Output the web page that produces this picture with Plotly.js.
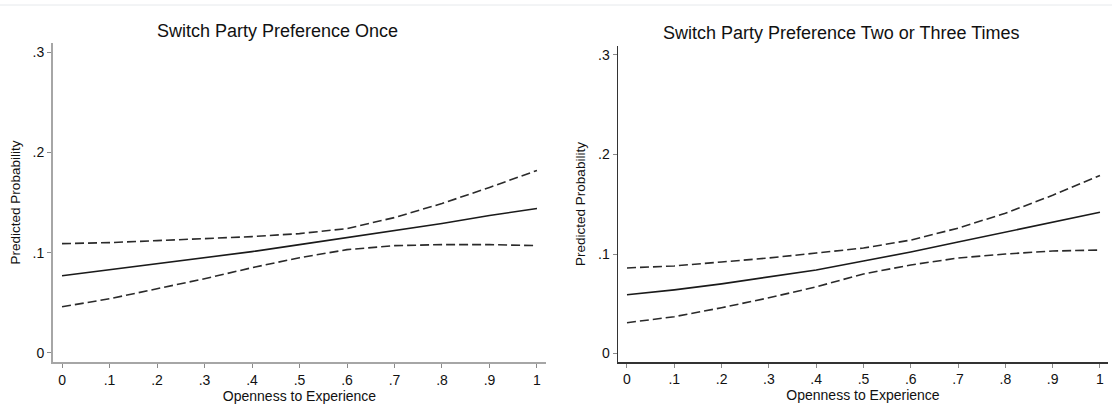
<!DOCTYPE html>
<html>
<head>
<meta charset="utf-8">
<script src="https://cdn.plot.ly/plotly-3.0.1.min.js"></script>
<style>
html,body{margin:0;padding:0;background:#fff;}
#chart{width:1112px;height:410px;}
</style>
</head>
<body>
<div id="chart"></div>
<script>
// Openness to Experience values
const openness = [0, 0.1, 0.2, 0.3, 0.4, 0.5, 0.6, 0.7, 0.8, 0.9, 1];

// Panel 1: Switch Party Preference Once
const onceEstimate = [0.077, 0.083, 0.089, 0.095, 0.101, 0.108, 0.115, 0.122, 0.129, 0.137, 0.144];
const onceUpper    = [0.109, 0.110, 0.112, 0.114, 0.116, 0.119, 0.124, 0.135, 0.149, 0.165, 0.182];
const onceLower    = [0.046, 0.054, 0.064, 0.074, 0.085, 0.095, 0.103, 0.107, 0.108, 0.108, 0.107];

// Panel 2: Switch Party Preference Two or Three Times
const twiceEstimate = [0.059, 0.064, 0.070, 0.077, 0.084, 0.093, 0.102, 0.112, 0.122, 0.132, 0.142];
const twiceUpper    = [0.086, 0.088, 0.092, 0.096, 0.101, 0.106, 0.114, 0.126, 0.141, 0.159, 0.179];
const twiceLower    = [0.031, 0.037, 0.046, 0.056, 0.067, 0.080, 0.089, 0.096, 0.100, 0.103, 0.104];

// Tick labels
const xTickVals = [0, 0.1, 0.2, 0.3, 0.4, 0.5, 0.6, 0.7, 0.8, 0.9, 1];
const xTickText = ['0', '.1', '.2', '.3', '.4', '.5', '.6', '.7', '.8', '.9', '1'];
const yTickVals = [0, 0.1, 0.2, 0.3];
const yTickText = ['0', '.1', '.2', '.3'];

const panelTitles = ['Switch Party Preference Once', 'Switch Party Preference Two or Three Times'];
const xTitle = 'Openness to Experience';
const yTitle = 'Predicted Probability';

const W = 1112, H = 410;
const FONT = 'Liberation Sans, Arial, sans-serif';
const solid = {color: '#1a1a1a', width: 1.6};
const dashed = {color: '#2a2a2a', width: 1.6, dash: '9px,4px'};

function tr(y, xa, ya, line, name) {
  return {x: openness, y: y, xaxis: xa, yaxis: ya, type: 'scatter', mode: 'lines',
          line: line, name: name, showlegend: false, hoverinfo: 'x+y'};
}

const data = [
  tr(onceUpper, 'x', 'y', dashed, 'Upper 95% CI'),
  tr(onceLower, 'x', 'y', dashed, 'Lower 95% CI'),
  tr(onceEstimate, 'x', 'y', solid, 'Predicted probability'),
  tr(twiceUpper, 'x2', 'y2', dashed, 'Upper 95% CI'),
  tr(twiceLower, 'x2', 'y2', dashed, 'Lower 95% CI'),
  tr(twiceEstimate, 'x2', 'y2', solid, 'Predicted probability')
];

function xax(domain, range, lineColor, lineWidth) {
  return {
    domain: domain, range: range,
    tickmode: 'array', tickvals: xTickVals, ticktext: xTickText,
    ticks: 'outside', ticklen: 4, tickwidth: 1, tickcolor: '#8a8a8a',
    ticklabelstandoff: 0,
    showline: true, linecolor: lineColor, linewidth: lineWidth,
    showgrid: false, zeroline: false, fixedrange: true,
    tickfont: {family: FONT, size: 14, color: '#111'},
    title: {text: xTitle, font: {family: FONT, size: 14, color: '#111'}, standoff: 0}
  };
}
function yax(domain, range, lineColor, lineWidth) {
  return {
    domain: domain, range: range,
    tickmode: 'array', tickvals: yTickVals, ticktext: yTickText,
    ticks: 'outside', ticklen: 4, tickwidth: 1, tickcolor: '#8a8a8a',
    showline: true, linecolor: lineColor, linewidth: lineWidth,
    showgrid: false, zeroline: false, fixedrange: true,
    tickfont: {family: FONT, size: 14, color: '#111'},
    title: {text: yTitle, font: {family: FONT, size: 13.5, color: '#111'}, standoff: 9}
  };
}

const xa1 = xax([53 / W, 546 / W], [-0.019, 1.019], '#a6a6a6', 2);
xa1.anchor = 'y';
const ya1 = yax([1 - 362 / H, 1 - 43 / H], [-0.009, 0.309], '#a6a6a6', 2);
ya1.anchor = 'x';
const xa2 = xax([618 / W, 1108 / W], [-0.019, 1.017], '#333333', 1.5);
xa2.anchor = 'y2';
const ya2 = yax([1 - 362 / H, 1 - 46 / H], [-0.0085, 0.309], '#333333', 1.5);
ya2.anchor = 'x2';

const layout = {
  width: W, height: H,
  margin: {l: 0, r: 0, t: 0, b: 0},
  paper_bgcolor: '#ffffff', plot_bgcolor: '#ffffff',
  showlegend: false,
  font: {family: FONT, color: '#111'},
  xaxis: xa1, yaxis: ya1, xaxis2: xa2, yaxis2: ya2,
  annotations: [
    {text: panelTitles[0], xref: 'paper', yref: 'paper', x: 277 / W, y: 1 - 31 / H,
     xanchor: 'center', yanchor: 'middle', showarrow: false,
     font: {family: FONT, size: 18, color: '#111'}},
    {text: panelTitles[1], xref: 'paper', yref: 'paper', x: 841 / W, y: 1 - 33 / H,
     xanchor: 'center', yanchor: 'middle', showarrow: false,
     font: {family: FONT, size: 18, color: '#111'}}
  ],
  shapes: [
    {type: 'line', xref: 'paper', yref: 'paper', x0: 0, x1: 1, y0: 1 - 5 / H, y1: 1 - 5 / H,
     line: {color: '#e6e9ec', width: 1}}
  ]
};

Plotly.newPlot('chart', data, layout, {displayModeBar: false, staticPlot: true});
</script>
</body>
</html>
